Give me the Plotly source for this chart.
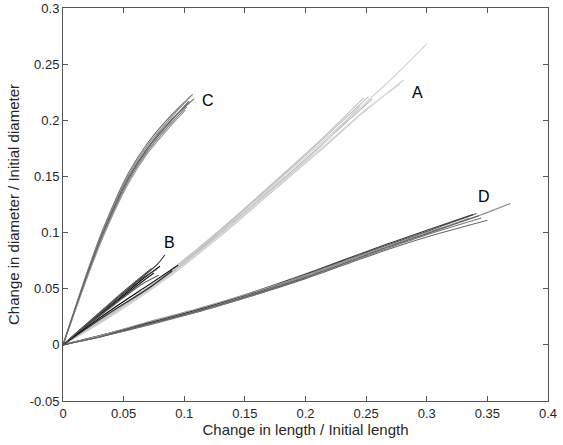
import plotly.graph_objects as go

# ---- Data ----
# Group C (steep, concave)
C_X = [
    [0, 0.01, 0.02, 0.033, 0.054, 0.07, 0.088, 0.107],
    [0, 0.01, 0.02, 0.033, 0.054, 0.07, 0.088, 0.105],
    [0, 0.01, 0.02, 0.033, 0.054, 0.07, 0.088, 0.104],
    [0, 0.01, 0.02, 0.033, 0.054, 0.07, 0.088, 0.102],
    [0, 0.01, 0.02, 0.033, 0.054, 0.07, 0.088, 0.101],
    [0, 0.01, 0.02, 0.033, 0.054, 0.07, 0.088, 0.108],
]
C_Y = [
    [0, 0.033, 0.065, 0.103, 0.153, 0.180, 0.203, 0.223],
    [0, 0.032, 0.064, 0.101, 0.151, 0.178, 0.201, 0.221],
    [0, 0.031, 0.062, 0.099, 0.148, 0.175, 0.198, 0.217],
    [0, 0.031, 0.061, 0.097, 0.146, 0.173, 0.196, 0.212],
    [0, 0.030, 0.060, 0.096, 0.144, 0.171, 0.194, 0.209],
    [0, 0.032, 0.063, 0.100, 0.149, 0.176, 0.199, 0.219],
]
C_COLORS = ["#6e6e6e", "#8c8c8c", "#5a5a5a", "#7a7a7a", "#999999", "#666666"]

# Group A (light gray, long)
A_X = [
    [0, 0.03, 0.06, 0.094, 0.13, 0.17, 0.21, 0.25, 0.275, 0.300],
    [0, 0.03, 0.06, 0.094, 0.13, 0.17, 0.21, 0.25, 0.281],
    [0, 0.03, 0.06, 0.094, 0.13, 0.17, 0.21, 0.25, 0.278],
    [0, 0.03, 0.06, 0.094, 0.13, 0.17, 0.21, 0.252],
    [0, 0.03, 0.06, 0.094, 0.13, 0.17, 0.21, 0.248],
    [0, 0.03, 0.06, 0.094, 0.13, 0.17, 0.21, 0.255],
    [0, 0.03, 0.06, 0.094, 0.13, 0.17, 0.21, 0.245],
]
A_Y = [
    [0, 0.020, 0.042, 0.069, 0.101, 0.139, 0.177, 0.216, 0.241, 0.268],
    [0, 0.019, 0.040, 0.066, 0.097, 0.134, 0.171, 0.209, 0.236],
    [0, 0.019, 0.040, 0.066, 0.098, 0.135, 0.172, 0.210, 0.232],
    [0, 0.021, 0.043, 0.070, 0.102, 0.140, 0.179, 0.221],
    [0, 0.021, 0.044, 0.071, 0.103, 0.141, 0.180, 0.220],
    [0, 0.020, 0.042, 0.068, 0.100, 0.137, 0.175, 0.219],
    [0, 0.020, 0.041, 0.067, 0.099, 0.136, 0.174, 0.213],
]
A_COLORS = ["#d2d2d2", "#c8c8c8", "#d8d8d8", "#bdbdbd", "#c4c4c4", "#b5b5b5", "#cfcfcf"]

# Group B (black, short)
B_X = [
    [0, 0.02, 0.045, 0.065, 0.078, 0.084],
    [0, 0.02, 0.045, 0.065, 0.080],
    [0, 0.02, 0.045, 0.065, 0.077],
    [0, 0.02, 0.045, 0.065, 0.075],
    [0, 0.02, 0.045, 0.065, 0.079],
    [0, 0.02, 0.045, 0.070, 0.095],
    [0, 0.02, 0.045, 0.070, 0.090],
    [0, 0.02, 0.045, 0.065, 0.073],
]
B_Y = [
    [0, 0.019, 0.042, 0.060, 0.072, 0.080],
    [0, 0.018, 0.040, 0.058, 0.070],
    [0, 0.018, 0.041, 0.059, 0.067],
    [0, 0.017, 0.039, 0.056, 0.064],
    [0, 0.017, 0.038, 0.054, 0.062],
    [0, 0.016, 0.035, 0.053, 0.071],
    [0, 0.015, 0.033, 0.050, 0.066],
    [0, 0.019, 0.043, 0.061, 0.068],
]
B_COLORS = ["#303030", "#000000", "#4a4a4a", "#1a1a1a", "#606060", "#000000", "#2a2a2a", "#555555"]

# Group D (shallow, long)
D_X = [
    [0, 0.03, 0.072, 0.11, 0.154, 0.20, 0.26, 0.30, 0.341],
    [0, 0.03, 0.072, 0.11, 0.154, 0.20, 0.26, 0.30, 0.34, 0.369],
    [0, 0.03, 0.072, 0.11, 0.154, 0.20, 0.26, 0.30, 0.350],
    [0, 0.03, 0.072, 0.11, 0.154, 0.20, 0.26, 0.30, 0.338],
    [0, 0.03, 0.072, 0.11, 0.154, 0.20, 0.26, 0.30, 0.345],
    [0, 0.03, 0.072, 0.11, 0.154, 0.20, 0.26, 0.30, 0.335],
    [0, 0.03, 0.072, 0.11, 0.154, 0.20, 0.26, 0.30, 0.343],
]
D_Y = [
    [0, 0.008, 0.020, 0.031, 0.045, 0.062, 0.086, 0.101, 0.117],
    [0, 0.008, 0.019, 0.030, 0.044, 0.061, 0.085, 0.100, 0.114, 0.126],
    [0, 0.007, 0.019, 0.029, 0.043, 0.059, 0.082, 0.096, 0.111],
    [0, 0.008, 0.020, 0.031, 0.046, 0.063, 0.087, 0.102, 0.116],
    [0, 0.007, 0.018, 0.029, 0.043, 0.060, 0.083, 0.098, 0.113],
    [0, 0.008, 0.021, 0.032, 0.046, 0.062, 0.085, 0.099, 0.113],
    [0, 0.007, 0.019, 0.030, 0.044, 0.060, 0.084, 0.099, 0.115],
]
D_COLORS = ["#505050", "#8a8a8a", "#6a6a6a", "#3c3c3c", "#7a7a7a", "#9a9a9a", "#5e5e5e"]

LABELS = ["A", "B", "C", "D"]
LABEL_X = [0.292, 0.088, 0.1196, 0.347]
LABEL_Y = [0.225, 0.091, 0.218, 0.132]

X_TICKS = [0, 0.05, 0.1, 0.15, 0.2, 0.25, 0.3, 0.35, 0.4]
X_TICK_TEXT = ["0", "0.05", "0.1", "0.15", "0.2", "0.25", "0.3", "0.35", "0.4"]
Y_TICKS = [-0.05, 0, 0.05, 0.1, 0.15, 0.2, 0.25, 0.3]
Y_TICK_TEXT = ["-0.05", "0", "0.05", "0.1", "0.15", "0.2", "0.25", "0.3"]

FONT = "Liberation Sans, Arial"

fig = go.Figure()

def add_group(xs, ys, colors):
    for x, y, c in zip(xs, ys, colors):
        fig.add_trace(go.Scatter(
            x=x, y=y, mode="lines",
            line=dict(color=c, width=1.1, shape="spline", smoothing=0.8),
            showlegend=False, hoverinfo="skip",
        ))

add_group(A_X, A_Y, A_COLORS)
add_group(D_X, D_Y, D_COLORS)
add_group(C_X, C_Y, C_COLORS)
add_group(B_X, B_Y, B_COLORS)

for t, lx, ly in zip(LABELS, LABEL_X, LABEL_Y):
    fig.add_annotation(x=lx, y=ly, text=t, showarrow=False,
                       font=dict(family=FONT, size=16, color="#000000"))

axis_common = dict(
    showgrid=False, zeroline=False, automargin=False,
    showline=True, linecolor="#555555", linewidth=1, mirror="ticks",
    ticks="inside", ticklen=5, tickcolor="#555555", tickwidth=1,
    tickfont=dict(family=FONT, size=13, color="#262626"),
)

fig.update_xaxes(
    range=[0, 0.4], tickvals=X_TICKS, ticktext=X_TICK_TEXT,
    title=dict(text="Change in length / Initial length",
               font=dict(family=FONT, size=15, color="#262626"), standoff=3),
    **axis_common,
)
fig.update_yaxes(
    range=[-0.05, 0.3], tickvals=Y_TICKS, ticktext=Y_TICK_TEXT,
    title=dict(text="Change in diameter / Initial diameter",
               font=dict(family=FONT, size=15, color="#262626"), standoff=6),
    **axis_common,
)

fig.update_layout(
    width=563, height=445,
    margin=dict(l=63, r=15, t=8, b=44),
    paper_bgcolor="white", plot_bgcolor="white",
)

fig.write_html("out.html", config={"displayModeBar": False},
               post_script="document.body.style.margin='0';")
